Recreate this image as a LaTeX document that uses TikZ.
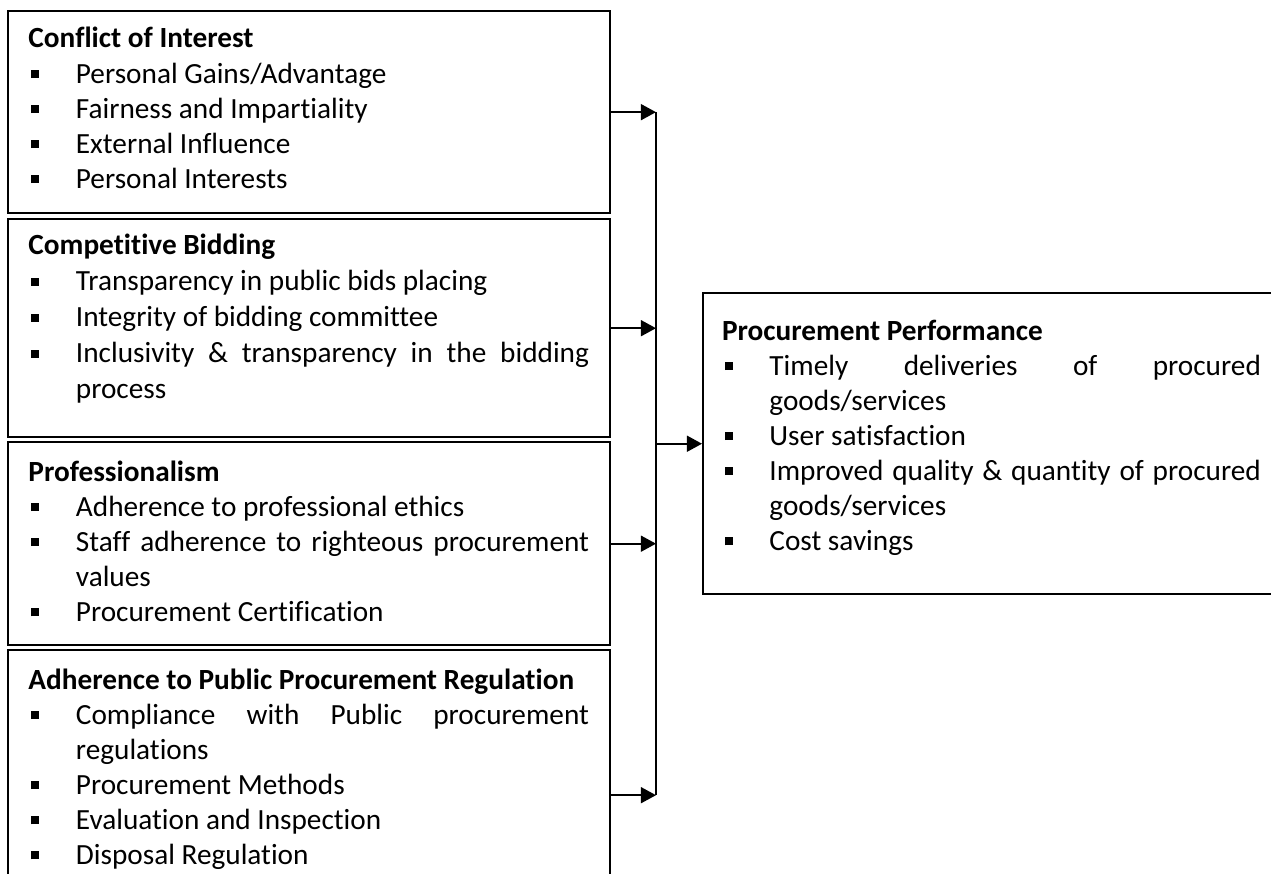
\documentclass[tikz,border=0pt]{standalone}
\usepackage{fontspec}
\setmainfont{Carlito}[Ligatures=NoCommon]
\usetikzlibrary{arrows.meta}

% square bullet and a hanging list entry
\newcommand{\sqb}{\rule[1.9pt]{3pt}{3pt}}
\newcommand{\itm}[1]{\par\hangindent=18pt\hangafter=1\noindent\makebox[18pt][l]{\hspace{1pt}\sqb}#1\par}

\tikzset{
  box/.style={draw=black, line width=0.9pt, anchor=north west, inner sep=0pt},
  txt/.style={anchor=base west, inner sep=0pt, align=justify,
              font=\fontsize{11.1}{13.3}\selectfont},
}

\begin{document}
\begin{tikzpicture}[x=0.3793pt,y=-0.3793pt]
\useasboundingbox (0,0) rectangle (1271,874);
\begin{scope}[>={Triangle[length=5.7pt,width=6pt]},line width=0.75pt]

    % the four factor boxes
    \node[box, minimum width=228.3pt, minimum height=76.6pt] (coi) at (7,10) {};
    \node[box, minimum width=228.3pt, minimum height=82.7pt] (bid) at (7,218) {};
    \node[box, minimum width=228.3pt, minimum height=77pt] (prof) at (7,441) {};
    \node[box, minimum width=228.3pt, minimum height=110pt] (reg) at (7,649) {};
    % outcome box
    \node[box, minimum width=227.6pt, minimum height=114.2pt] (perf) at (702,292) {};

    \node[txt, text width=212.6pt] (coitxt) at (27.5,48) {\textbf{Conflict of Interest}
        \itm{Personal Gains/Advantage}
        \itm{Fairness and Impartiality}
        \itm{External Influence}
        \itm{Personal Interests}};
    \node[txt, text width=212.6pt, font=\fontsize{11.1}{13.65}\selectfont] (bidtxt) at (27.5,255) {\textbf{Competitive Bidding}
        \itm{Transparency in public bids placing}
        \itm{Integrity of bidding committee}
        \itm{Inclusivity \& transparency in the bidding\linebreak process}};
    \node[txt, text width=212.6pt] (proftxt) at (27.5,481) {\textbf{Professionalism}
        \itm{Adherence to professional ethics}
        \itm{Staff adherence to righteous procurement\linebreak values}
        \itm{Procurement Certification}};
    \node[txt, text width=212.6pt] (regtxt) at (27.5,689) {\textbf{Adherence to Public Procurement Regulation}
        \itm{Compliance with Public procurement\linebreak regulations}
        \itm{Procurement Methods}
        \itm{Evaluation and Inspection}
        \itm{Disposal Regulation}};
    \node[txt, text width=204.4pt] (perftxt) at (721,340) {\textbf{Procurement Performance}
        \itm{Timely deliveries of procured\linebreak goods/services}
        \itm{User satisfaction}
        \itm{Improved quality \& quantity of procured\linebreak goods/services}
        \itm{Cost savings}};

    % collecting line
    \coordinate (bus) at (656,0);
    \draw[->] (coi.east) -- (coi.east -| bus);
    \draw[->] (bid.east) -- (bid.east -| bus);
    \draw[->] (prof.east) -- (prof.east -| bus);
    \draw[->] (reg.east) -- (reg.east -| bus);
    \draw (coi.east -| bus) -- (reg.east -| bus);
    \draw[->] (perf.west -| bus) -- (perf.west);
\end{scope}
\end{tikzpicture}
\end{document}
